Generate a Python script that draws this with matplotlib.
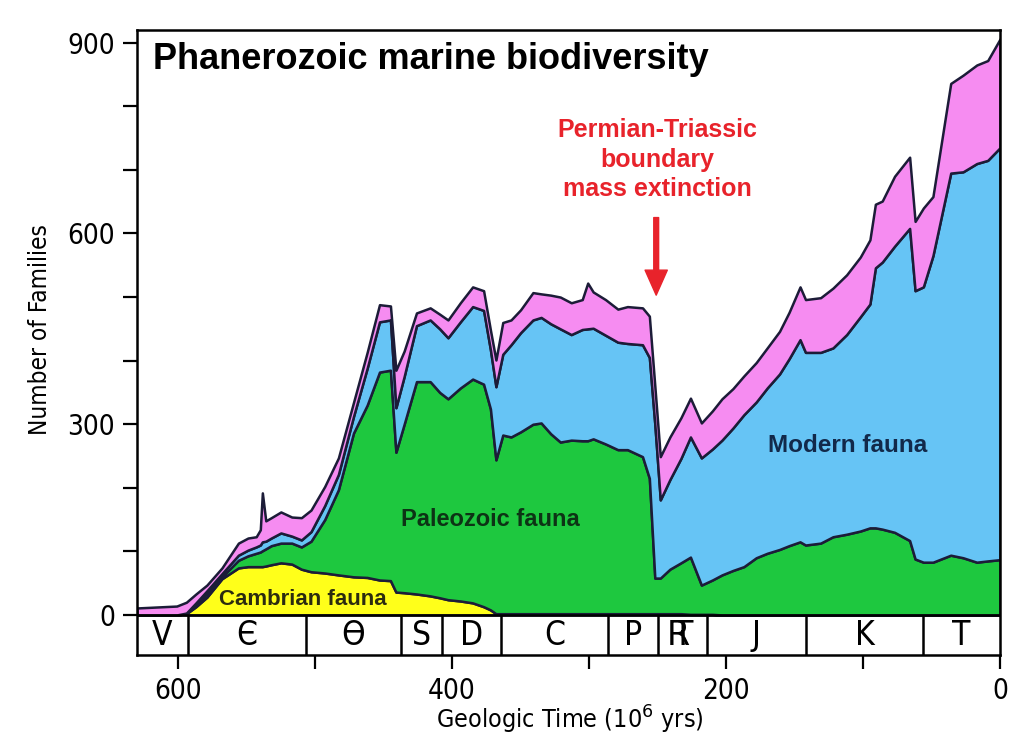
import matplotlib
matplotlib.use("Agg")
import matplotlib.pyplot as plt
from matplotlib.ticker import MultipleLocator

# Edad (millones de años) y número de familias de cada fauna
edad = [630, 601, 594, 587, 579, 568, 556, 549, 543, 540, 538.5, 536, 532, 525,
        517, 510, 503, 493, 483, 472, 462, 453, 445, 441, 435, 426, 416, 409,
        403, 394, 385, 377, 372, 368, 363, 357, 350, 341, 335, 328, 321, 313,
        305, 301, 297, 288, 279, 272, 261, 256, 252, 248, 241, 233, 226, 218,
        210, 203, 195, 187, 178, 170, 161, 154, 146, 142, 131, 122, 112, 102,
        95, 91, 86, 77, 66, 62, 56, 49, 36, 27, 17, 9, 0]

cambrica = [0, 0, 2, 13, 28, 57, 74, 76, 76, 76, 76, 77, 79, 82,
            80, 72, 68, 66, 63, 60, 59, 55, 54, 36, 35, 33, 30, 27,
            24, 22, 19, 13, 8, 2, 2, 2, 2, 2, 2, 2, 2, 2,
            2, 2, 2, 2, 2, 2, 2, 2, 2, 2, 2, 2, 1, 1,
            1, 0, 0, 0, 0, 0, 0, 0, 0, 0, 0, 0, 0, 0,
            0, 0, 0, 0, 0, 0, 0, 0, 0, 0, 0, 0, 0]

paleozoica = [0, 0, 0, 3, 6, 3, 12, 17, 21, 23, 25, 27, 30, 31,
              33, 35, 48, 84, 134, 226, 271, 327, 331, 220, 265, 334, 337, 323,
              316, 335, 352, 350, 316, 242, 281, 278, 286, 298, 300, 283, 270, 273,
              272, 272, 275, 267, 258, 258, 247, 213, 56, 56, 70, 80, 90, 46,
              54, 63, 70, 76, 90, 97, 103, 109, 115, 110, 113, 123, 127, 132,
              137, 137, 135, 130, 117, 88, 83, 83, 94, 90, 83, 85, 87]

moderna = [0, 0, 1, 3, 4, 5, 8, 9, 10, 11, 14, 12, 12, 16,
           11, 11, 15, 22, 24, 26, 58, 79, 79, 70, 75, 88, 97, 100,
           96, 104, 114, 116, 93, 115, 127, 145, 156, 164, 166, 173, 178, 166,
           175, 176, 174, 171, 169, 167, 176, 190, 242, 123, 141, 164, 189, 200,
           206, 212, 224, 239, 245, 260, 276, 294, 318, 303, 300, 297, 314, 337,
           352, 409, 420, 450, 491, 422, 433, 482, 601, 607, 627, 630, 648]

otras = [11, 14, 17, 14, 9, 9, 19, 19, 16, 24, 77, 32, 32, 33,
         30, 35, 34, 30, 26, 22, 25, 27, 22, 59, 40, 20, 19, 23,
         28, 30, 31, 31, 31, 42, 50, 39, 36, 43, 37, 45, 50, 50,
         47, 72, 57, 56, 52, 58, 58, 65, 60, 68, 67, 64, 61, 55,
         60, 65, 62, 61, 62, 63, 67, 73, 83, 83, 86, 94, 94, 94,
         101, 100, 96, 110, 112, 109, 124, 93, 141, 152, 155, 157, 171]

# Periodos geológicos (límites en Ma)
periodos = ["V", "Є", "Ө", "S", "D", "C", "P", r"$\mathsf{T\!\!\!\!\!R}$",
            "J", "K", "T"]
limites = [630, 593, 507, 437, 407, 364, 286, 250, 214, 142, 56, 0]

colores = ["#ffff1a", "#1ec83f", "#66c4f5", "#f68cf1"]
rojo = "#e8232b"
arial = ["Liberation Sans", "DejaVu Sans"]

fig = plt.figure(figsize=(10.24, 7.45), dpi=100)
ax = fig.add_axes([0.1338, 0.1208, 0.8428, 0.8389])

ax.stackplot(edad, cambrica, paleozoica, moderna, otras, colors=colores,
             edgecolor="#1c1c38", linewidth=1.8)

ax.set_xlim(630, 0)
ax.set_ylim(-63, 920)

# barra de periodos
ax.axhline(0, color="black", lw=1.8, zorder=5)
ax.vlines(limites[1:-1], -63, 0, color="black", lw=1.8, zorder=5)
for i, p in enumerate(periodos):
    xc = (limites[i] + limites[i + 1]) / 2
    ax.text(xc, -32, p, ha="center", va="center", fontsize=24,
            family="DejaVu Sans", fontstretch="condensed")

# ejes
ax.set_xticks([600, 400, 200, 0])
ax.xaxis.set_minor_locator(MultipleLocator(100))
ax.set_yticks([0, 300, 600, 900])
ax.yaxis.set_minor_locator(MultipleLocator(100))
ax.tick_params(which="both", direction="out", length=10, width=1.6,
               labelsize=20, pad=6)
for lab in ax.get_xticklabels() + ax.get_yticklabels():
    lab.set_fontstretch("condensed")
for s in ax.spines.values():
    s.set_linewidth(1.8)

fig.text(40 / 1024, 1 - 330 / 745, "Number of Families", rotation=90,
         ha="center", va="center", fontsize=17.5, family="DejaVu Sans",
         fontstretch="condensed")
fig.text(570 / 1024, 1 - 720 / 745, "Geologic Time (10$^6$ yrs)",
         ha="center", va="center", fontsize=18, family="DejaVu Sans",
         fontstretch="condensed")

# textos
ax.text(618, 873, "Phanerozoic marine biodiversity", ha="left", va="center",
        fontsize=26, fontweight="bold", family=arial)
ax.text(509, 24, "Cambrian fauna", ha="center", va="center", fontsize=16,
        fontweight="bold", family=arial, color="#2b2b10")
ax.text(372, 150, "Paleozoic fauna", ha="center", va="center", fontsize=17,
        fontweight="bold", family=arial, color="#0d3315")
ax.text(111, 266, "Modern fauna", ha="center", va="center", fontsize=17.5,
        fontweight="bold", family=arial, color="#12294a")

ax.text(250, 716, "Permian-Triassic\nboundary\nmass extinction", ha="center",
        va="center", fontsize=18, fontweight="bold", family=arial, color=rojo,
        linespacing=1.3)
ax.annotate("", xy=(251, 503), xytext=(251, 625),
            arrowprops=dict(width=3.5, headwidth=16, headlength=18, color=rojo,
                            shrink=0))

fig.savefig("out.png", dpi=100)
